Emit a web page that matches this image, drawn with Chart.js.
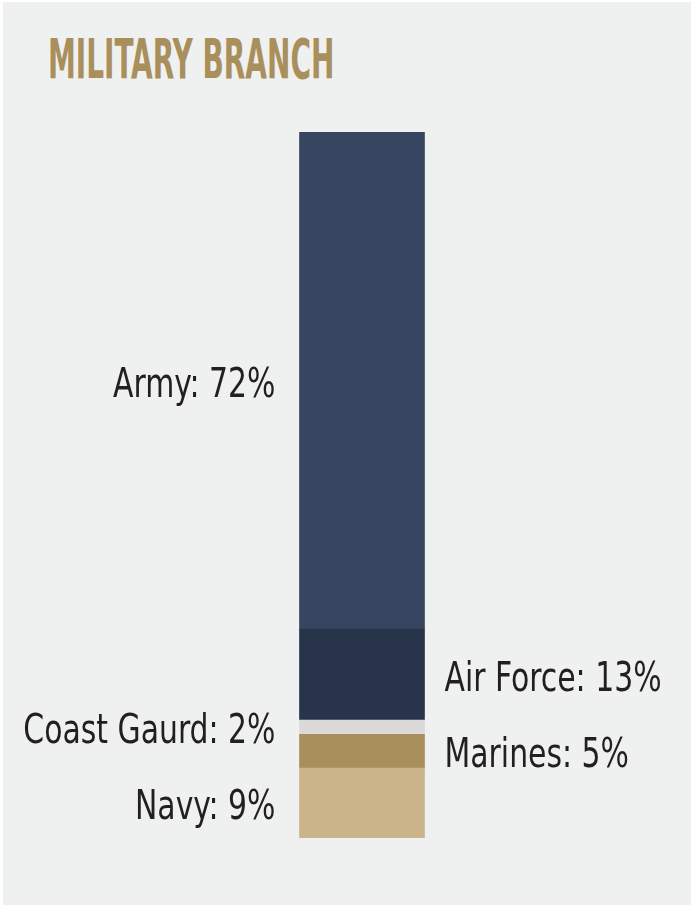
<!DOCTYPE html>
<html>
<head>
<meta charset="utf-8">
<script src="https://cdn.jsdelivr.net/npm/chart.js@4.4.1/dist/chart.umd.min.js"></script>
<style>
  html, body { margin: 0; padding: 0; background: #ffffff; }
  #panel {
    position: absolute; left: 3px; top: 2px; width: 688px; height: 903px;
    background: #eff0f0;
  }
  #title {
    position: absolute; left: 48px; top: 32px; margin: 0;
    font-family: "DejaVu Sans Condensed", sans-serif;
    font-weight: bold; font-size: 55px; line-height: 55px; color: #a98f5b;
    transform: scaleX(0.565); transform-origin: left top; white-space: nowrap;
  }
  #wrap { position: absolute; left: 0; top: 0; width: 691px; height: 905px; }
</style>
</head>
<body>
<div id="panel"></div>
<h1 id="title">MILITARY BRANCH</h1>
<div id="wrap"><canvas id="branchChart"></canvas></div>
<script>
// bottom to top, as stacked
const branches = ['Navy', 'Marines', 'Coast Gaurd', 'Air Force', 'Army'];
// segment heights as drawn (share of bar)
const shares = [9.9, 4.8, 2.0, 12.9, 70.4];
// percentages as printed on the labels
const printedShares = [9, 5, 2, 13, 72];
const colors = ['#cbb489', '#a98f5b', '#dcd9da', '#273449', '#384560'];

// labels beside each segment, alternating sides
const sideLabels = {
    id: 'sideLabels',
    afterDatasetsDraw(chart) {
        const ctx = chart.ctx;
        const squeeze = 0.83;
        ctx.save();
        ctx.font = '40px "DejaVu Sans Condensed", sans-serif';
        ctx.fillStyle = '#231f20';
        ctx.textBaseline = 'alphabetic';
        chart.data.datasets.forEach((ds, i) => {
            const bar = chart.getDatasetMeta(i).data[0];
            const mid = (bar.y + bar.base) / 2;
            const text = ds.label + ': ' + printedShares[i] + '%';
            const x = i % 2 === 0 ? bar.x - bar.width / 2 - 24 : bar.x + bar.width / 2 + 20;
            ctx.save();
            ctx.translate(x, mid + 16);
            ctx.scale(squeeze, 1);
            ctx.textAlign = i % 2 === 0 ? 'right' : 'left';
            ctx.fillText(text, 0, 0);
            ctx.restore();
        });
        ctx.restore();
    }
};

new Chart(document.getElementById('branchChart'), {
    type: 'bar',
    data: {
        labels: ['Branch'],
        datasets: branches.map((b, i) => ({
            label: b,
            data: [shares[i]],
            backgroundColor: colors[i],
            borderWidth: 0,
            barThickness: 125
        }))
    },
    options: {
        responsive: true,
        maintainAspectRatio: false,
        animation: false,
        layout: { padding: { left: 237, right: 204, top: 132, bottom: 67 } },
        scales: {
            x: { stacked: true, display: false },
            y: { stacked: true, display: false, min: 0, max: 100 }
        },
        plugins: {
            legend: { display: false },
            tooltip: { enabled: false }
        }
    },
    plugins: [sideLabels]
});
</script>
</body>
</html>
